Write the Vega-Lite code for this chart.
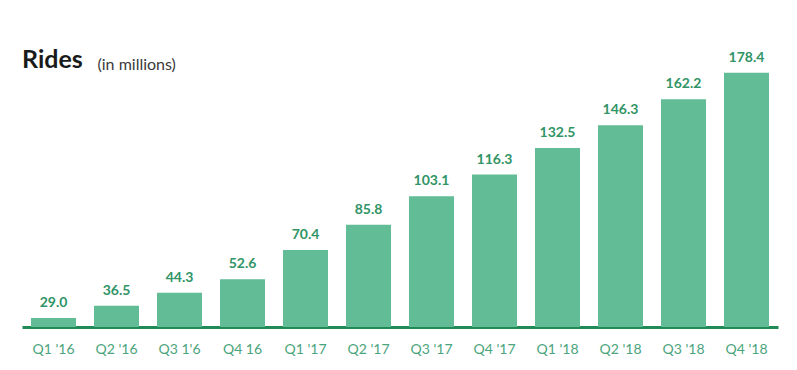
{
  "$schema": "https://vega.github.io/schema/vega-lite/v6.json",
  "width": 756,
  "height": 255,
  "autosize": "none",
  "padding": {"left": 22, "top": 72, "right": 19, "bottom": 43},
  "background": "white",
  "config": {"view": {"stroke": null}, "font": "Lato"},
  "title": {
    "text": "Rides",
    "anchor": "start",
    "frame": "group",
    "orient": "top",
    "offset": 2,
    "dy": 44,
    "baseline": "alphabetic",
    "fontSize": 25,
    "fontWeight": "bold",
    "color": "#1a1a1a",
    "font": "Lato"
  },
  "data": {
    "values": [
      {"q": "Q1 '16", "rides": 29.0, "label": "29.0"},
      {"q": "Q2 '16", "rides": 36.5, "label": "36.5"},
      {"q": "Q3 1'6", "rides": 44.3, "label": "44.3"},
      {"q": "Q4 16", "rides": 52.6, "label": "52.6"},
      {"q": "Q1 '17", "rides": 70.4, "label": "70.4"},
      {"q": "Q2 '17", "rides": 85.8, "label": "85.8"},
      {"q": "Q3 '17", "rides": 103.1, "label": "103.1"},
      {"q": "Q4 '17", "rides": 116.3, "label": "116.3"},
      {"q": "Q1 '18", "rides": 132.5, "label": "132.5"},
      {"q": "Q2 '18", "rides": 146.3, "label": "146.3"},
      {"q": "Q3 '18", "rides": 162.2, "label": "162.2"},
      {"q": "Q4 '18", "rides": 178.4, "label": "178.4"}
    ]
  },
  "encoding": {
    "x": {
      "field": "q",
      "type": "nominal",
      "sort": null,
      "scale": {"paddingInner": 0.286, "paddingOuter": 0.143},
      "axis": {
        "title": null,
        "labelAngle": 0,
        "ticks": false,
        "domainColor": "#1f8a55",
        "domainWidth": 3,
        "labelColor": "#4aa47d",
        "labelFontSize": 14,
        "labelPadding": 15,
        "labelFont": "Lato"
      }
    },
    "y": {
      "field": "rides",
      "type": "quantitative",
      "scale": {"domain": [23.5, 178.8], "zero": false, "nice": false},
      "axis": {
        "title": "(in millions)",
        "titleAngle": 0,
        "titleAlign": "left",
        "titleBaseline": "alphabetic",
        "titleX": 75,
        "titleY": -3,
        "titleFontSize": 16,
        "titleFontWeight": "normal",
        "titleColor": "#3a3a3a",
        "titleFont": "Lato",
        "labels": false,
        "ticks": false,
        "domain": false,
        "grid": false
      }
    }
  },
  "layer": [
    {"mark": {"type": "bar", "color": "#62bc96", "clip": true}},
    {
      "mark": {
        "type": "text",
        "baseline": "alphabetic",
        "dy": -11,
        "fontSize": 14,
        "fontWeight": "bold",
        "color": "#2f9466",
        "font": "Lato"
      },
      "encoding": {"text": {"field": "label"}}
    }
  ]
}
